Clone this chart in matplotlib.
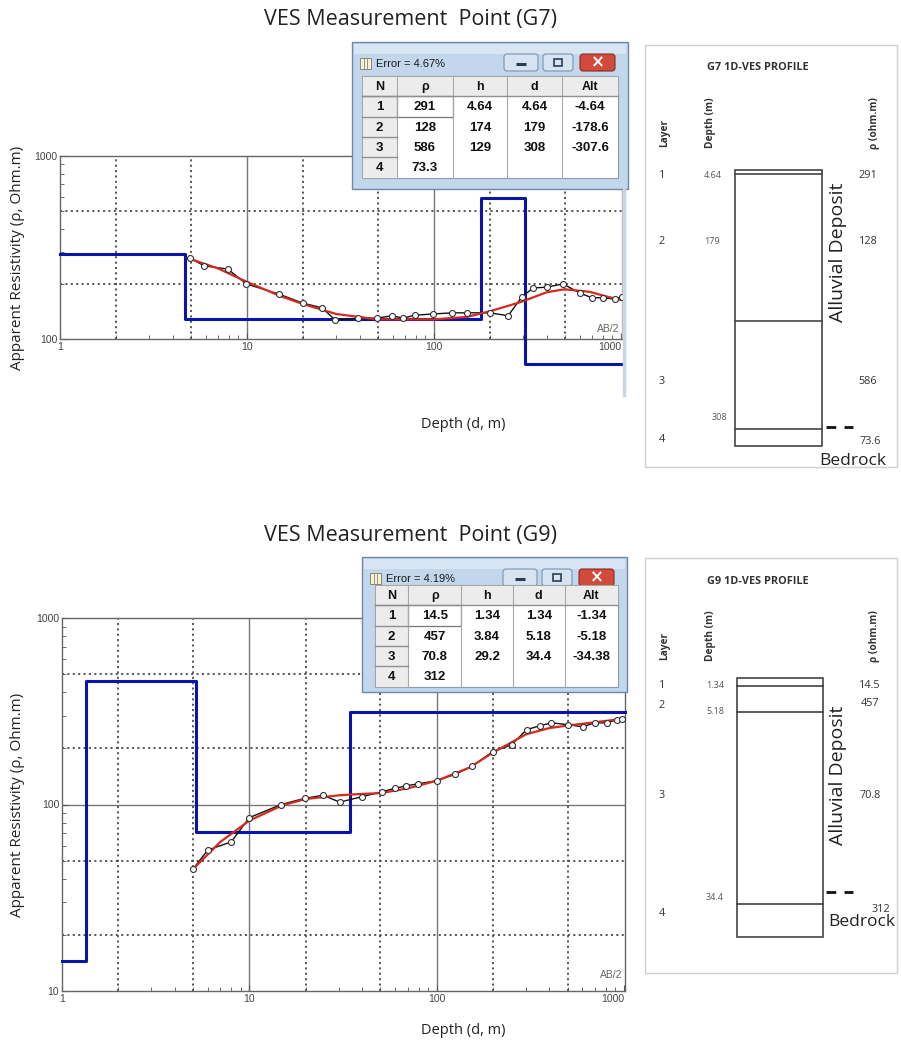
import numpy as np
import matplotlib.pyplot as plt
from matplotlib.patches import Rectangle, FancyBboxPatch
from matplotlib.ticker import NullFormatter

plt.rcParams['font.family'] = ['Open Sans', 'DejaVu Sans']

# ---- G7 sounding ----
g7_ab2 = [4.96, 5.9, 7.9, 9.9, 14.8, 19.9, 25.2, 29.6, 39.2, 49.6, 59.6, 68.3, 79.1, 98.9,
          125, 150, 199, 249, 295, 339, 400, 490, 603, 700, 801, 929, 1010]
g7_rho_app = [277, 251, 241, 200, 176, 157, 148, 127, 130, 130, 134, 130, 135, 137,
              139, 139, 139, 134, 170, 190, 192, 200, 178, 168, 168, 165, 170]
g7_fit_ab2 = [4.9, 7, 10, 15, 20, 30, 50, 100, 150, 200, 290, 400, 500, 680, 850, 1010]
g7_fit_rho = [275, 243, 205, 172, 155, 137, 128, 128, 132, 142, 159, 180, 187, 181, 170, 163]
g7_rho = [291, 128, 586, 73.3]
g7_h = [4.64, 174, 129]
g7_d = [4.64, 179, 308]
g7_alt = [-4.64, -178.6, -307.6]
g7_err = "Error = 4.67%"
g7_prof_depth = ["4.64", "179", "308"]
g7_prof_rho = ["291", "128", "586", "73.6"]

# ---- G9 sounding ----
g9_ab2 = [5.0, 6.0, 8.0, 10, 14.8, 19.8, 24.7, 30.4, 39.8, 50.9, 59.7, 69, 79, 100,
          125, 154, 199, 251, 302, 354, 410, 500, 601, 697, 807, 912, 980]
g9_rho_app = [45, 57, 63, 85, 100, 108, 112, 103, 110, 117, 122, 126, 129, 134,
              145, 160, 192, 209, 252, 264, 274, 268, 261, 274, 274, 284, 288]
g9_fit_ab2 = [5, 7, 10, 15, 20, 30, 40, 50, 70, 100, 150, 200, 300, 400, 500, 700, 1010]
g9_fit_rho = [45, 63, 82, 99, 107, 112, 114, 115, 122, 134, 158, 190, 238, 257, 265, 276, 289]
g9_rho = [14.5, 457, 70.8, 312]
g9_h = [1.34, 3.84, 29.2]
g9_d = [1.34, 5.18, 34.4]
g9_alt = [-1.34, -5.18, -34.38]
g9_err = "Error = 4.19%"
g9_prof_depth = ["1.34", "5.18", "34.4"]
g9_prof_rho = ["14.5", "457", "70.8", "312"]

W, H = 901, 1043
XMAX = 1012
fig = plt.figure(figsize=(W / 100, H / 100), dpi=100)


def px_axes(l, t, r, b):
    return fig.add_axes([l / W, 1 - b / H, (r - l) / W, (b - t) / H])


def sounding(ax, ab2, rho_app, fit_x, fit_y, rho, d, ylo, hgrid):
    ax.set_xscale('log')
    ax.set_yscale('log')
    ax.set_xlim(1, XMAX)
    ax.set_ylim(ylo, 1000)
    dots = (0, (1.2, 1.9))
    for v in [2, 5, 20, 50, 200, 500]:
        ax.axvline(v, color='#444444', lw=1.25, ls=dots, zorder=1)
    for v in [10, 100]:
        ax.axvline(v, color='#777777', lw=1.0, zorder=1)
    for v in hgrid:
        ax.axhline(v, color='#444444', lw=1.25, ls=dots, zorder=1)
    if ylo < 100:
        ax.axhline(100, color='#777777', lw=1.0, zorder=1)
    # layered model as a step line
    edges = [1] + list(d) + [XMAX]
    vals = list(rho) + [rho[-1]]
    ax.step(edges, vals, where='post', color='#0a14a8', lw=2.2, zorder=3, clip_on=False)
    ax.plot(ab2, rho_app, color='#111111', lw=1.0, zorder=4)
    ax.plot(fit_x, fit_y, color='#d42a20', lw=1.6, zorder=5)
    ax.plot(ab2, rho_app, 'o', ms=4.3, mfc='white', mec='#333333', mew=0.8, zorder=6)
    ax.tick_params(which='both', direction='in', labelsize=7.5, labelcolor='#444444',
                   color='#555555', pad=2)
    ax.tick_params(which='major', length=4)
    ax.tick_params(which='minor', length=3)
    ax.set_xticks([1, 10, 100, 1000])
    ax.set_xticklabels(['1', '10', '100', '1000'], family='Liberation Sans')
    ax.get_xticklabels()[-1].set_ha('right')
    yt = [10, 100, 1000] if ylo < 100 else [100, 1000]
    ax.set_yticks(yt)
    ax.set_yticklabels([str(v) for v in yt], family='Liberation Sans')
    ax.xaxis.set_minor_formatter(NullFormatter())
    ax.yaxis.set_minor_formatter(NullFormatter())
    for s in ax.spines.values():
        s.set_color('#666666')
        s.set_linewidth(1.0)
    ax.text(0.995, 0.03, 'AB/2', transform=ax.transAxes, ha='right', va='bottom',
            fontsize=7.5, color='#666666', family='Liberation Sans')


ax1 = px_axes(60, 156, 622, 339)
sounding(ax1, g7_ab2, g7_rho_app, g7_fit_ab2, g7_fit_rho, g7_rho, g7_d, 100, [200, 500])
ax1.spines['right'].set_color('#bbbbbb')
ax2 = px_axes(62, 618, 625, 991)
sounding(ax2, g9_ab2, g9_rho_app, g9_fit_ab2, g9_fit_rho, g9_rho, g9_d, 10, [20, 50, 200, 500])

for ycen, xl_y in [(258, 425), (805, 1030)]:
    fig.text(18 / W, 1 - ycen / H, 'Apparent Resistivity (ρ, Ohm.m)', rotation=90,
             ha='center', va='center', fontsize=11, color='#222222')
    fig.text(463 / W, 1 - xl_y / H, 'Depth (d, m)', ha='center', va='center',
             fontsize=10.5, color='#222222')
fig.text(410 / W, 1 - 20 / H, 'VES Measurement  Point (G7)', ha='center', va='center',
         fontsize=15.5, color='#222222')
fig.text(410 / W, 1 - 535 / H, 'VES Measurement  Point (G9)', ha='center', va='center',
         fontsize=15.5, color='#222222')

# overlay in pixel coordinates for the result windows and the profile columns
ov = fig.add_axes([0, 0, 1, 1], zorder=10)
ov.set_xlim(0, W)
ov.set_ylim(H, 0)
ov.axis('off')


def fmt(v):
    return f"{v:g}"


def window(x0, y0, x1, y1, tx0, ty0, tx1, err, rho, h, d, alt):
    ov.add_patch(Rectangle((x0, y0), x1 - x0, y1 - y0, fc='#c3d7ec', ec='#6f88a6', lw=1.0))
    ov.add_patch(Rectangle((x0 + 2, y0 + 2), x1 - x0 - 4, 10, fc='#d8e6f4', ec='none'))
    # title icon + text
    ov.add_patch(Rectangle((x0 + 8, y0 + 16), 11, 11, fc='#f4f0dc', ec='#8a8a6a', lw=0.7))
    for k in range(1, 3):
        ov.plot([x0 + 8 + k * 11 / 3] * 2, [y0 + 16, y0 + 27], color='#8a8a6a', lw=0.6)
    ov.text(x0 + 24, y0 + 22, err, fontsize=8, va='center', ha='left', color='#1a1a1a',
            family='Liberation Sans')
    # caption buttons
    bt = y0 + 12
    for bx, bw, fc, ec in [(x1 - 124, 34, '#d6e4f2', '#7d93ad'),
                           (x1 - 85, 30, '#d6e4f2', '#7d93ad'),
                           (x1 - 48, 35, '#d24a3c', '#8c2a22')]:
        ov.add_patch(FancyBboxPatch((bx, bt), bw, 17, boxstyle='round,pad=0,rounding_size=3',
                                    fc=fc, ec=ec, lw=0.8))
    ov.plot([x1 - 112, x1 - 102], [bt + 10, bt + 10], color='#2b3d55', lw=2.2,
            solid_capstyle='butt')
    ov.add_patch(Rectangle((x1 - 74, bt + 5), 8, 7, fc='none', ec='#2b3d55', lw=1.2))
    ov.text(x1 - 30.5, bt + 8.5, '×', ha='center', va='center', fontsize=12,
            color='white', fontweight='bold', family='DejaVu Sans')
    # table
    rh = 20.3
    ty1 = ty0 + 5 * rh
    ov.add_patch(Rectangle((tx0, ty0), tx1 - tx0, ty1 - ty0, fc='white', ec='#8c9aab', lw=0.8))
    fr = np.array([35, 56, 54, 55, 56], float)
    cx = tx0 + np.concatenate([[0], np.cumsum(fr / fr.sum() * (tx1 - tx0))])
    ov.add_patch(Rectangle((tx0, ty0), tx1 - tx0, rh, fc='#ececec', ec='#a0a0a0', lw=0.6))
    ov.add_patch(Rectangle((tx0, ty0), cx[1] - tx0, ty1 - ty0, fc='#ececec', ec='#a0a0a0', lw=0.6))
    for c in cx[1:-1]:
        ov.plot([c, c], [ty0, ty1], color='#a8a8a8', lw=0.8)
    for r in range(1, 5):
        ov.plot([tx0, cx[1]], [ty0 + r * rh] * 2, color='#909090', lw=1.0)
    ov.plot([tx0, tx1], [ty0 + rh] * 2, color='#909090', lw=1.0)
    ov.add_patch(Rectangle((cx[1], ty0 + rh), cx[2] - cx[1], rh, fc='none', ec='#777777', lw=0.9))
    head = ['N', 'ρ', 'h', 'd', 'Alt']
    for j, t in enumerate(head):
        ov.text((cx[j] + cx[j + 1]) / 2, ty0 + rh / 2 + 1, t, ha='center', va='center',
                fontsize=9, fontweight='bold', color='#111111', family='Liberation Sans')
    for i in range(4):
        cells = [str(i + 1), fmt(rho[i])]
        if i < 3:
            cells += [fmt(h[i]), fmt(d[i]), fmt(alt[i])]
        yc = ty0 + (i + 1.5) * rh + 1
        for j, t in enumerate(cells):
            ov.text((cx[j] + cx[j + 1]) / 2, yc, t, ha='center', va='center', fontsize=9.5,
                    fontweight='bold', color='#111111', family='Liberation Sans')


window(352, 42, 628, 189, 362, 76, 618, g7_err, g7_rho, g7_h, g7_d, g7_alt)
window(362, 557, 627, 692, 375, 585, 618, g9_err, g9_rho, g9_h, g9_d, g9_alt)
# window edge continuing down the right of the top plot
ov.plot([624, 624], [189, 395], color='#c9d5e3', lw=2.5)


def profile(top, bottom, title, rect, lines, layer_y, depth_pos, rho_pos, depths, rhos,
            alluvial_y, dash_y, bed_xy):
    ov.add_patch(Rectangle((645, top), 252, bottom - top, fc='white', ec='#d0d0d0', lw=1.0))
    ov.text(758, top + 23, title, ha='center', va='center', fontsize=7.8, fontweight='bold',
            color='#333333')
    hy = top + 88
    ov.text(665, hy, 'Layer', rotation=90, ha='center', va='center', fontsize=7.3,
            fontweight='bold', color='#333333')
    ov.text(710, hy - 10, 'Depth (m)', rotation=90, ha='center', va='center', fontsize=7.3,
            fontweight='bold', color='#333333')
    ov.text(874, hy - 10, 'ρ (ohm.m)', rotation=90, ha='center', va='center', fontsize=7.3,
            fontweight='bold', color='#333333')
    l, t, r, b = rect
    ov.add_patch(Rectangle((l, t), r - l, b - t, fc='white', ec='#444444', lw=1.2))
    for y in lines:
        ov.plot([l, r], [y, y], color='#444444', lw=1.2)
    for k, y in enumerate(layer_y):
        ov.text(662, y, str(k + 1), ha='center', va='center', fontsize=7.8, color='#333333')
    for (x, y), s in zip(depth_pos, depths):
        ov.text(x, y, s, ha='center', va='center', fontsize=6.5, color='#555555')
    for (x, y), s in zip(rho_pos, rhos):
        ov.text(x, y, s, ha='center', va='center', fontsize=7.8, color='#333333')
    ov.text(838, alluvial_y, 'Alluvial Deposit', rotation=90, ha='center', va='center',
            fontsize=14, color='#222222')
    ov.plot([826, 853], [dash_y, dash_y], color='#111111', lw=2.0, ls=(0, (3.5, 3)))
    ov.text(bed_xy[0], bed_xy[1], 'Bedrock', ha='center', va='center', fontsize=12.5,
            color='#222222')


profile(45, 467, 'G7 1D-VES PROFILE', (735, 170, 822, 446), [174, 321, 429],
        [176, 242, 382, 439], [(713, 176), (712, 242), (719, 418)],
        [(868, 176), (868, 242), (868, 382), (870, 441)], g7_prof_depth, g7_prof_rho,
        252, 427, (853, 461))
profile(558, 973, 'G9 1D-VES PROFILE', (737, 678, 823, 937), [686, 712, 904],
        [685, 706, 795, 914], [(715, 685), (715, 712), (715, 898)],
        [(870, 685), (870, 704), (870, 795), (881, 909)], g9_prof_depth, g9_prof_rho,
        775, 892, (862, 922))

fig.savefig('out.png', dpi=100)
